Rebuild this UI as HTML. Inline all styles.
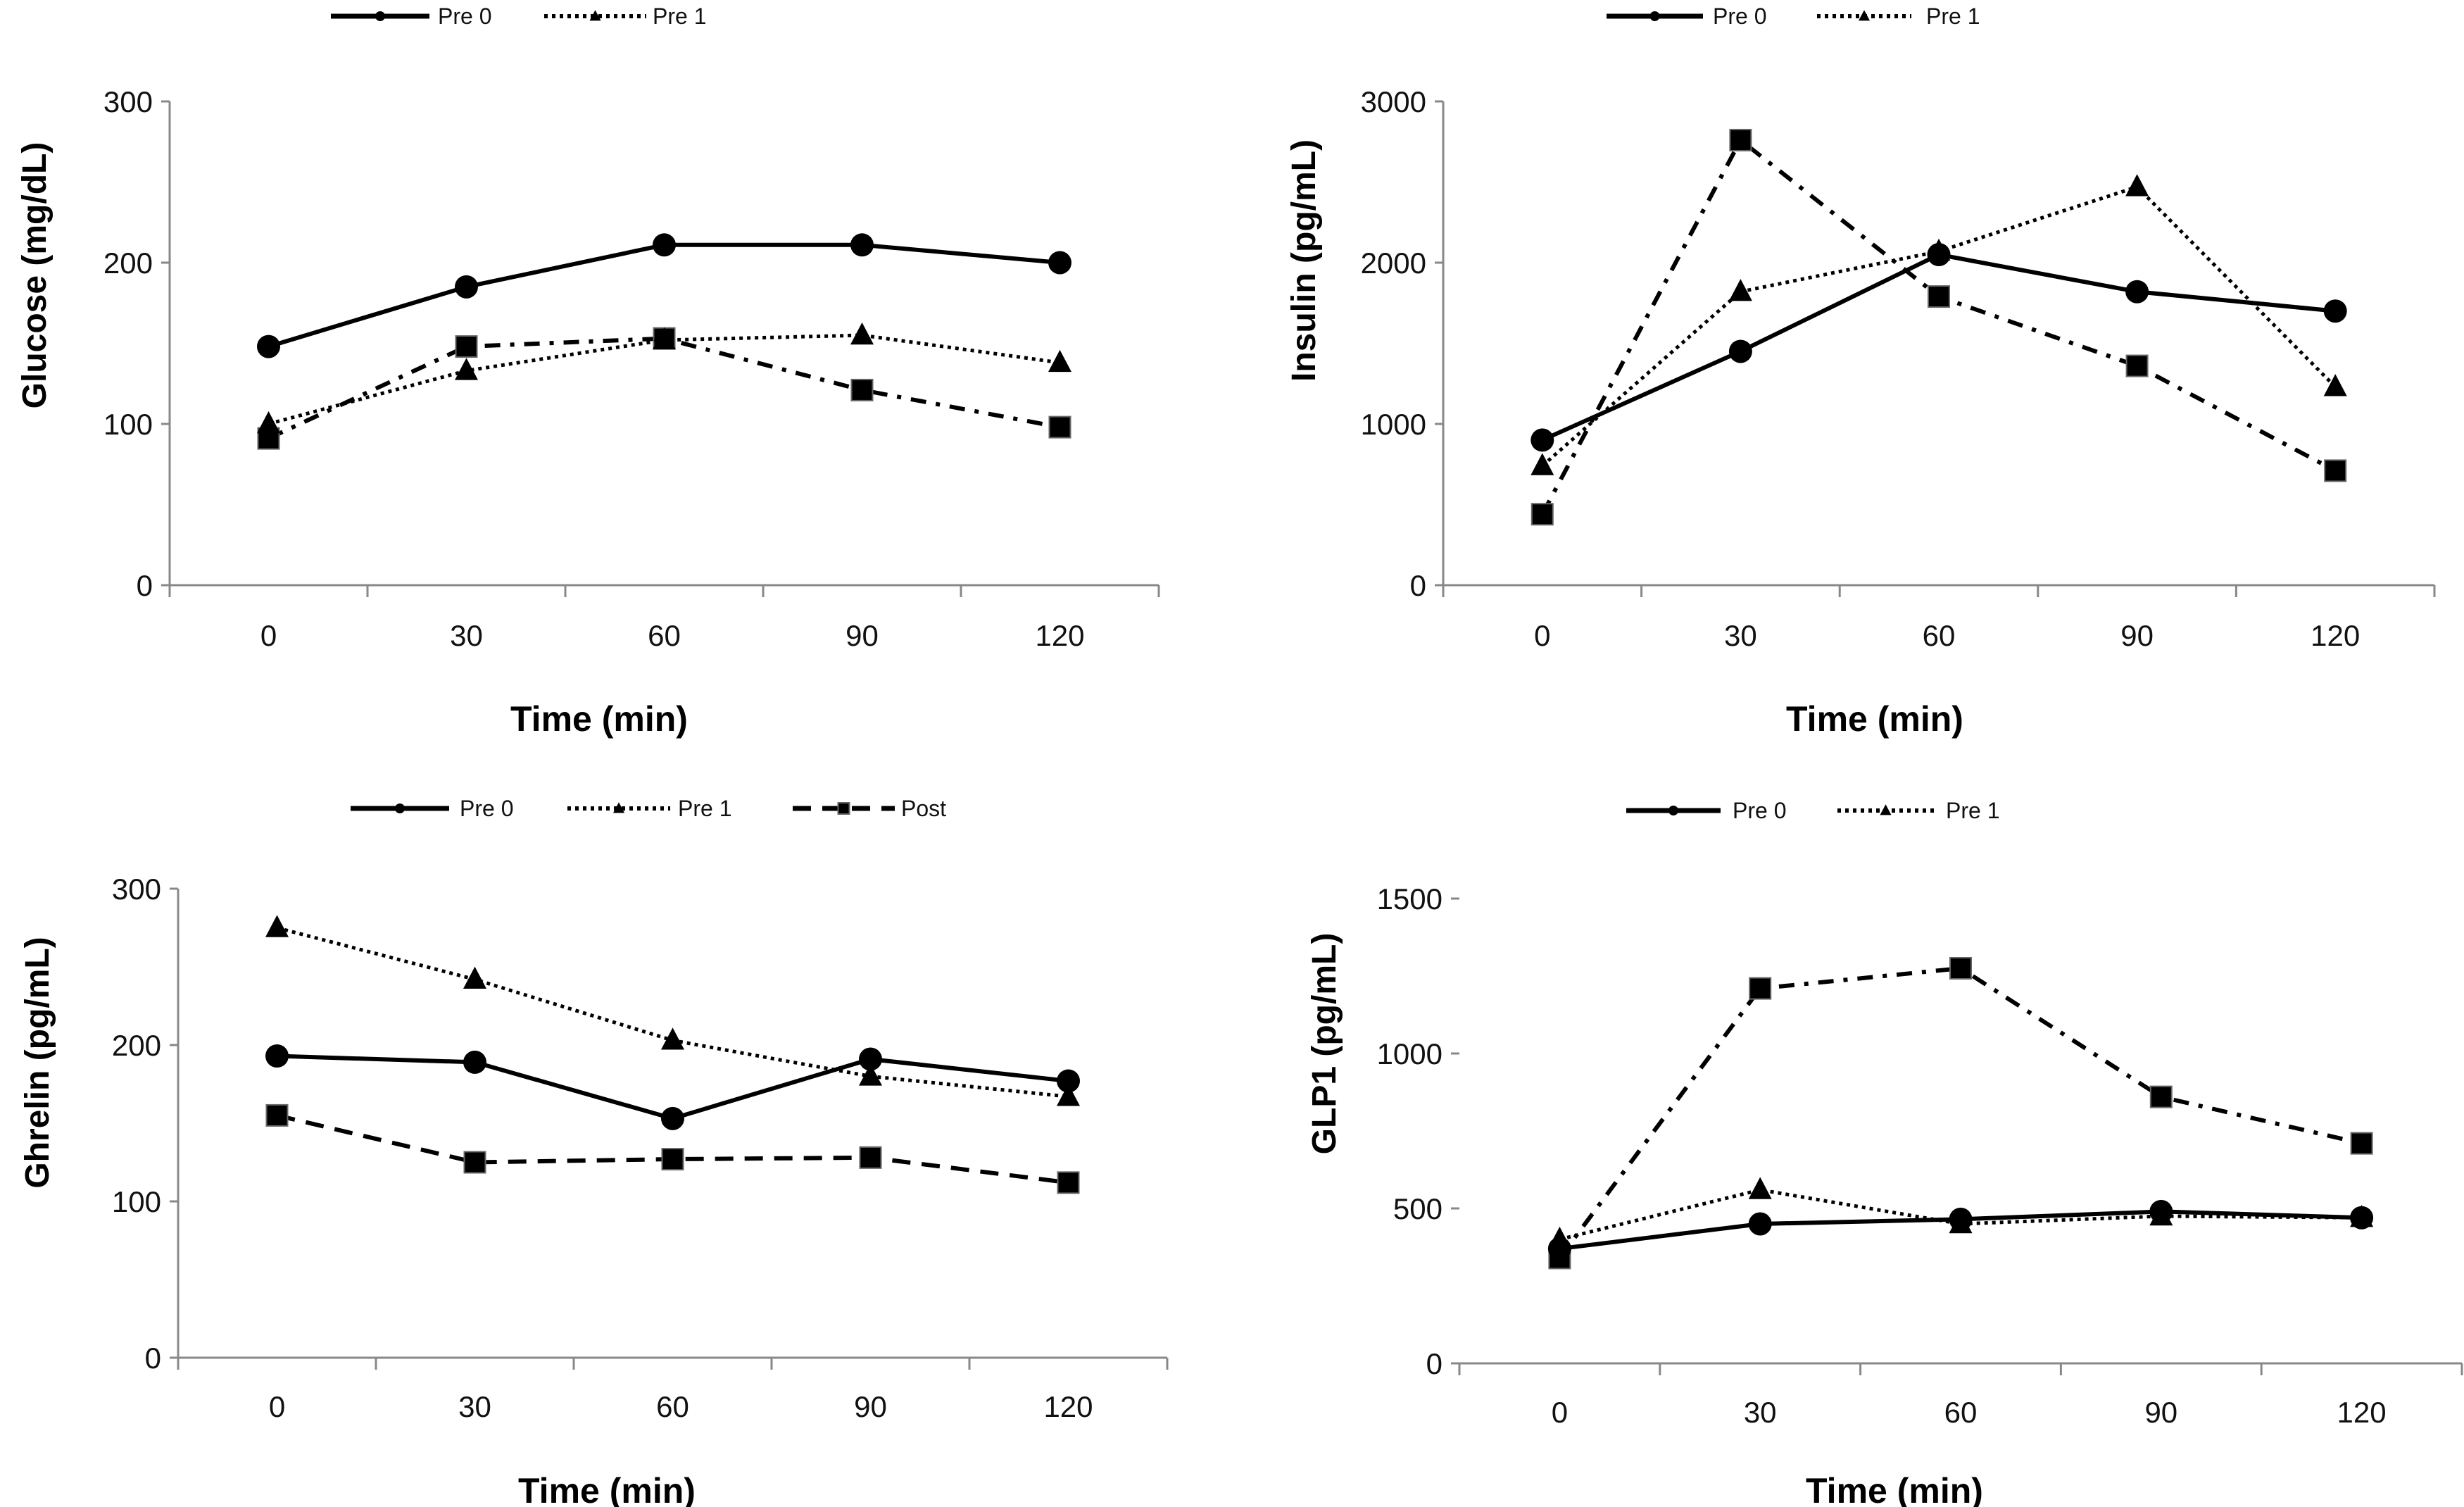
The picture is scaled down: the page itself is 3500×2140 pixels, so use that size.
<!DOCTYPE html>
<html><head><meta charset="utf-8"><style>
html,body{margin:0;padding:0;background:#fff;}
svg{display:block;font-family:"Liberation Sans",sans-serif;}
</style></head><body>
<svg id="chart" width="3500" height="2140" viewBox="0 0 3500 2140" xmlns="http://www.w3.org/2000/svg"></svg>
<script>
const categories = ["0","30","60","90","120"];
const glucosePre0 = [148,185,211,211,200];
const glucosePre1 = [100,133,152,155,138];
const glucosePost = [91,148,153,121,98];
const insulinPre0 = [900,1450,2050,1820,1700];
const insulinPre1 = [740,1820,2070,2470,1230];
const insulinPost = [440,2760,1790,1360,710];
const ghrelinPre0 = [193,189,153,191,177];
const ghrelinPre1 = [275,242,203,180,167];
const ghrelinPost = [155,125,127,128,112];
const glp1Pre0 = [370,450,465,490,470];
const glp1Pre1 = [400,560,450,475,470];
const glp1Post = [340,1210,1275,860,710];
const glucoseTicks = [0,100,200,300];
const insulinTicks = [0,1000,2000,3000];
const ghrelinTicks = [0,100,200,300];
const glp1Ticks = [0,500,1000,1500];

const NS="http://www.w3.org/2000/svg";
const svg=document.getElementById('chart');
function mk(tag,attrs,parent){const e=document.createElementNS(NS,tag);for(const k in attrs)e.setAttribute(k,attrs[k]);(parent||svg).appendChild(e);return e;}

const styles={
  pre0:{dash:"",w:6,marker:"circle"},
  pre1:{dash:"5,6",w:5,marker:"triangle"},
  postDD:{dash:"22,14,6,14",w:6,marker:"square"},
  postDash:{dash:"26,16",w:6,marker:"square"}
};

function marker(g,type,x,y,s){
  let e;
  if(type==="circle"){e=mk('circle',{cx:x,cy:y,r:s/2,fill:'#000'},g);}
  else if(type==="triangle"){e=mk('polygon',{points:`${x},${y-s*0.55} ${x-s*0.5},${y+s*0.4} ${x+s*0.5},${y+s*0.4}`,fill:'#000'},g);}
  else {e=mk('rect',{x:x-s/2,y:y-s/2,width:s,height:s,fill:'#000',stroke:'#666','stroke-width':2},g);}
  return e;
}

const panels=[
 {name:'glucose',x0:241,x1:1646,yTop:144,yBot:831,max:300,ticks:glucoseTicks,ytitle:'Glucose (mg/dL)',ytx:48,yty:391,
  tickLabelY:917,titleX:851,titleY:1038,legY:23,
  series:[[glucosePre0,'pre0'],[glucosePre1,'pre1'],[glucosePost,'postDD']],
  legend:[['pre0','Pre 0',470,610,622],['pre1','Pre 1',773,918,927]]},
 {name:'insulin',x0:2050,x1:3458,yTop:144,yBot:831,max:3000,ticks:insulinTicks,ytitle:'Insulin (pg/mL)',ytx:1851,yty:370,
  tickLabelY:917,titleX:2663,titleY:1038,legY:23,
  series:[[insulinPre0,'pre0'],[insulinPre1,'pre1'],[insulinPost,'postDD']],
  legend:[['pre0','Pre 0',2282,2419,2433],['pre1','Pre 1',2581,2715,2736]]},
 {name:'ghrelin',x0:253,x1:1658,yTop:1262,yBot:1928,max:300,ticks:ghrelinTicks,ytitle:'Ghrelin (pg/mL)',ytx:52,yty:1509,
  tickLabelY:2012,titleX:862,titleY:2134,legY:1148,
  series:[[ghrelinPre0,'pre0'],[ghrelinPre1,'pre1'],[ghrelinPost,'postDash']],
  legend:[['pre0','Pre 0',498,638,653],['pre1','Pre 1',806,952,963],['postDash','Post',1126,1271,1280]]},
 {name:'glp1',x0:2073,x1:3497,yTop:1276,yBot:1936,max:1500,ticks:glp1Ticks,ytitle:'GLP1 (pg/mL)',ytx:1880,yty:1482,
  tickLabelY:2020,titleX:2691,titleY:2134,legY:1151,noYLine:true,
  series:[[glp1Pre0,'pre0'],[glp1Pre1,'pre1'],[glp1Post,'postDD']],
  legend:[['pre0','Pre 0',2310,2444,2461],['pre1','Pre 1',2610,2747,2764]]}
];

panels.forEach(p=>{
  const g=mk('g',{});
  
  
  const n=categories.length;
  const band=(p.x1-p.x0)/n;
  const xs=i=>p.x0+band*(i+0.5);
  const ys=v=>p.yBot-(v/p.max)*(p.yBot-p.yTop);
  // axes
  const xa=mk('line',{x1:p.x0,y1:p.yBot,x2:p.x1,y2:p.yBot,stroke:'#888','stroke-width':3},g);
  
  
  if(!p.noYLine){
    const ya=mk('line',{x1:p.x0,y1:p.yTop,x2:p.x0,y2:p.yBot,stroke:'#888','stroke-width':3},g);
    
    
  }
  for(let i=0;i<=n;i++){
    const tx=p.x0+band*i;
    mk('line',{x1:tx,y1:p.yBot,x2:tx,y2:p.yBot+17,stroke:'#888','stroke-width':3},g);
  }
  p.ticks.forEach(t=>{
    const y=ys(t);
    mk('line',{x1:p.x0-12,y1:y,x2:p.x0,y2:y,stroke:'#888','stroke-width':3},g);
    const tl=mk('text',{x:p.x0-24,y:y+15,'text-anchor':'end','font-size':42,fill:'#111'},g);
    tl.textContent=t;
    
    
  });
  categories.forEach((c,i)=>{
    const tl=mk('text',{x:xs(i),y:p.tickLabelY,'text-anchor':'middle','font-size':42,fill:'#111'},g);
    tl.textContent=c;
    
    
  });
  const xt=mk('text',{x:p.titleX,y:p.titleY,'text-anchor':'middle','font-size':50,'font-weight':'bold',fill:'#000'},g);
  xt.textContent='Time (min)';
  
  
  const yt=mk('text',{x:p.ytx,y:p.yty,'text-anchor':'middle','font-size':48,'font-weight':'bold',fill:'#000',transform:`rotate(-90 ${p.ytx} ${p.yty}) translate(0 17)`},g);
  yt.textContent=p.ytitle;
  
  
  // series (post drawn first so others on top? keep order pre0 last)
  [...p.series].reverse().forEach(([vals,st])=>{
    const s=styles[st];
    const sg=mk('g',{},g);
    
    
    const pts=vals.map((v,i)=>xs(i)+','+ys(v)).join(' ');
    const attrs={points:pts,fill:'none',stroke:'#000','stroke-width':s.w,'stroke-linejoin':'round'};
    if(s.dash)attrs['stroke-dasharray']=s.dash;
    mk('polyline',attrs,sg);
    vals.forEach((v,i)=>{
      const m=marker(sg,s.marker,xs(i),ys(v),s.marker==='square'?30:33);
      
      
    });
  });
  // legend
  p.legend.forEach(([st,label,lx0,lx1,tx])=>{
    const s=styles[st];
    const lg=mk('g',{},g);
    
    
    const a={x1:lx0,y1:p.legY,x2:lx1,y2:p.legY,stroke:'#000','stroke-width':s.w+1};
    if(s.dash)a['stroke-dasharray']=s.dash;
    mk('line',a,lg);
    marker(lg,s.marker,(lx0+lx1)/2,p.legY,s.marker==='circle'?14:16);
    const t=mk('text',{x:tx,y:p.legY+11,'font-size':32,fill:'#111'},lg);
    t.textContent=label;
  });
});
</script>
</body></html>
